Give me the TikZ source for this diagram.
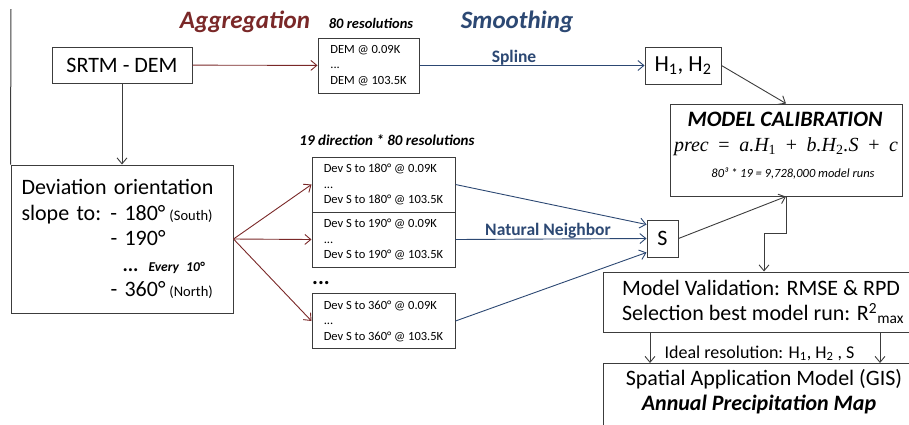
\documentclass[tikz,border=0pt]{standalone}
\usepackage{fontspec}
\setmainfont{Carlito}
\newfontfamily\eqfont{Liberation Serif}
\usetikzlibrary{arrows.meta}
\definecolor{aggred}{RGB}{122,40,40}
\definecolor{smoothblue}{RGB}{44,72,115}
\definecolor{edge}{RGB}{60,60,60}

\begin{document}
\begin{tikzpicture}[x=1pt, y=-1pt, >={Straight Barb[length=6pt,width=10pt]},
    box/.style={ draw=edge, line width=1pt, inner sep=0pt },
    big/.style={ font=\fontsize{22}{25.5}\selectfont },
    small/.style={ font=\fontsize{12.5}{15.5}\selectfont, align=left },
    head/.style={ anchor=base, font=\fontsize{25}{30}\selectfont\bfseries\itshape },
    note/.style={ anchor=base, font=\fontsize{15}{18}\selectfont\bfseries\itshape },
    lbl/.style={ anchor=base, font=\fontsize{17.5}{20}\selectfont\bfseries, smoothblue },
    aggarrow/.style={ ->, aggred, line width=0.9pt },
    smootharrow/.style={ ->, smoothblue, line width=0.9pt },
    flow/.style={ ->, edge, line width=0.9pt } ]
  \clip (0,0) rectangle (909,424);

  \node[head, aggred] (aggr) at (245,28) {Aggregation};
  \node[head, smoothblue] (smth) at (517,28) {Smoothing};
  \node[note, font=\fontsize{14.5}{17}\selectfont\bfseries\itshape] (nres) at (371,28) {80 resolutions};
  \node[note] (ndir) at (387,145) {19 direction * 80 resolutions};

  \node[box, big, minimum width=140pt, minimum height=36pt] (srtm) at (122,65) {SRTM - DEM};
  \node[box, small, minimum width=101pt, minimum height=55pt] (dem) at (368.5,65.5)
    {DEM @ 0.09K\\...\\DEM @ 103.5K};
  \node[box, big, font=\fontsize{23}{25}\selectfont, minimum width=76pt, minimum height=37pt] (h) at (683,65.5)
    {H\textsubscript{1}, H\textsubscript{2}};
  \node[lbl] (spl) at (514,62) {Spline};

  \node[box, minimum width=232pt, minimum height=92pt] (calib) at (786,150) {};
  \node[anchor=base, inner sep=0pt, font=\fontsize{22}{22}\selectfont\bfseries\itshape] (calt) at (785,126) {MODEL CALIBRATION};
  \node[anchor=base, inner sep=0pt, font=\fontsize{20}{20}\eqfont] (cale) at (786,151)
    {{\itshape prec}\hspace{.48em}=\hspace{.48em}{\itshape a.H}\textsubscript{1}\hspace{.48em}+\hspace{.48em}{\itshape b.H}\textsubscript{2}{\itshape .S}\hspace{.48em}+\hspace{.48em}{\itshape c}};
  \node[anchor=base, inner sep=0pt, font=\fontsize{12.5}{15}\selectfont\itshape] (calr) at (793,177) {80³ * 19 = 9,728,000 model runs};

  \node[box, big, align=left, text width=201pt, minimum width=222pt, minimum height=148pt] (dev) at (122,239)
    {Deviation orientation\\
     \makebox[89pt][l]{slope to:}- 180°\hspace{4pt}{\fontsize{14.5}{15}\selectfont (South)}\\
     \hspace*{89pt}- 190°\\
     \hspace*{101pt}{\fontsize{20}{20}\selectfont\bfseries ...}\hspace{10pt}{\fontsize{13.5}{15}\selectfont\bfseries\itshape Every 10°}\\
     \hspace*{89pt}- 360°\hspace{4pt}{\fontsize{14.5}{15}\selectfont (North)}};

  \foreach \d/\y/\n in {180/184.5/1,190/239.5/2,360/321/3}
  \node[box, small, minimum width=143pt, minimum height=55pt] (dev\n) at (383.5,\y)
    {Dev S to \d° @ 0.09K\\...\\Dev S to \d° @ 103.5K};
  \node[anchor=base, font=\fontsize{22}{22}\selectfont\bfseries] (more) at (321,284) {...};

  \node[box, big, minimum width=31pt, minimum height=37pt] (s) at (662.5,238.5) {S};
  \node[lbl] (nn) at (548,235) {Natural Neighbor};

  \node[box, big, align=left, minimum width=320pt, minimum height=60pt] (valid) at (763,302)
    {Model Validation: RMSE \& RPD\\Selection best model run: R\textsuperscript{2}\textsubscript{max}};
  \node[anchor=base, font=\fontsize{18}{20}\selectfont] (ideal) at (759.5,358)
    {Ideal resolution: H\textsubscript{1}, H\textsubscript{2} , S};
  \node[box, anchor=north, minimum width=320pt, minimum height=80pt] (spatial) at (763,363) {};
  \node[anchor=base, big] (gis) at (764,385) {Spatial Application Model (GIS)};
  \node[anchor=base, big, font=\fontsize{22}{25}\selectfont\bfseries\itshape] (map) at (759,410) {Annual Precipitation Map};

  \coordinate (top) at (11,9);
  \draw[edge, line width=1pt] (top) -- (dev.north west);

  \draw[aggarrow] (srtm) -- (dem);
  \draw[smootharrow] (dem) -- (h);
  \draw[flow] (h.east) -- (calib.north);
  \draw[flow] (srtm) -- (dev);
  \foreach \n in {1,2,3}
  \draw[aggarrow] (dev.east) -- (dev\n.west);
  \draw[smootharrow] (dev1.east) -- ([yshift=14pt]s.west);
  \draw[smootharrow] (dev2.east) -- (s.west);
  \draw[smootharrow] (dev3.east) -- ([yshift=-14pt]s.west);
  \draw[flow] (s.east) -- (calib.south);
  \draw[flow] (calib.south) -- ++(0,37) -| ([xshift=1pt]valid.north);
  \draw[flow] ([xshift=-113pt]valid.south) -- ([xshift=-113pt]spatial.north);
  \draw[flow] ([xshift=117pt]valid.south) -- ([xshift=117pt]spatial.north);
\end{tikzpicture}
\end{document}
